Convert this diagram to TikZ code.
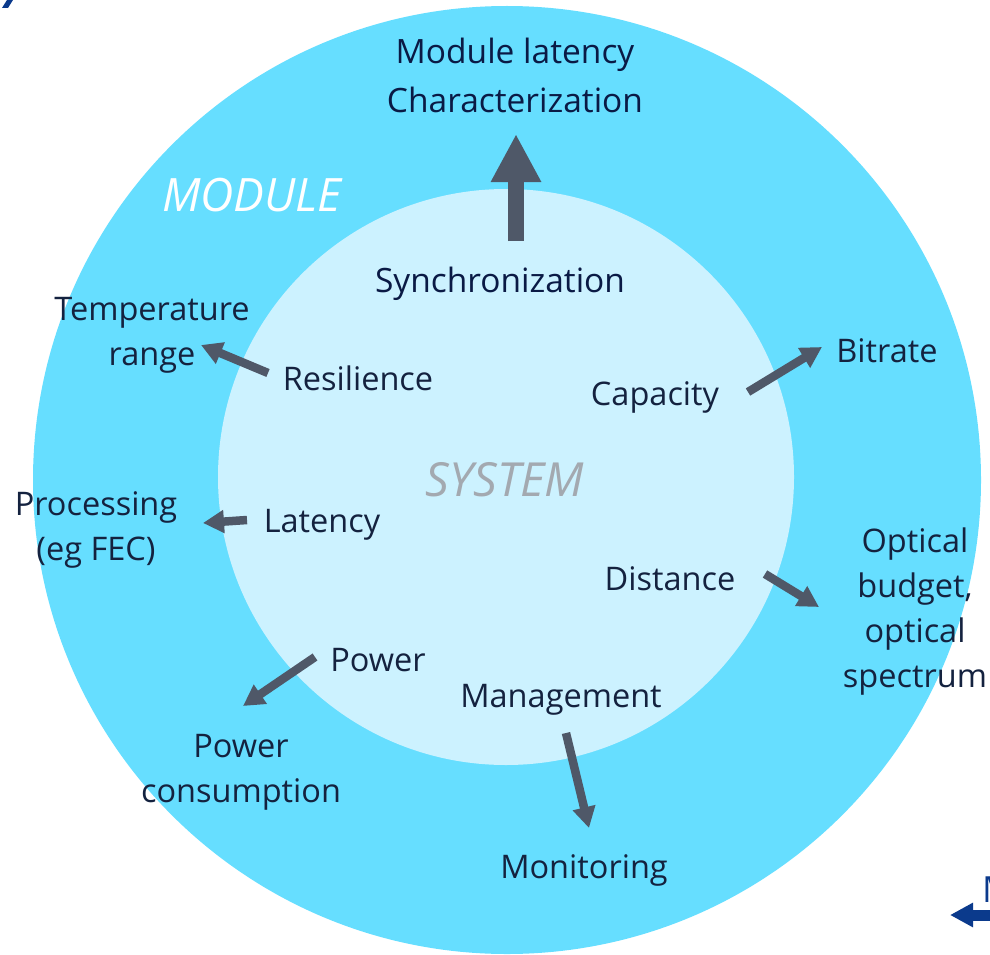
\documentclass[tikz,border=0pt]{standalone}
\usepackage{fontspec}
\setmainfont{Open Sans}
\usetikzlibrary{arrows.meta}
\definecolor{outerc}{HTML}{66DEFF}
\definecolor{innerc}{HTML}{CCF2FF}
\definecolor{arrc}{HTML}{4F5868}
\definecolor{txtc}{HTML}{14223F}
\definecolor{navy}{HTML}{0A1A45}
\definecolor{sysc}{HTML}{A3A9B0}
\definecolor{bluec}{HTML}{0B3A8C}
\tikzset{
  lbl/.style={text=txtc, font=\fontsize{32.5}{45}\selectfont, align=center, inner sep=0pt},
  big/.style={text=navy, font=\fontsize{33.5}{45}\selectfont, align=center, inner sep=0pt},
  arr/.style={draw=arrc, line width=8.5pt, line cap=butt, -{Triangle[width=22pt,length=21pt]}},
  toparr/.style={draw=arrc, line width=16pt, line cap=butt, -{Triangle[width=47pt,length=48pt]}},
}
\begin{document}
\begin{tikzpicture}[x=1pt,y=-1pt]
\useasboundingbox (0,0) rectangle (990,955);
\clip (0,0) rectangle (990,955);
\fill[outerc] (507,480) circle (474);
\fill[innerc] (506,477) circle (288);
% texts
\node[big] (mod1) at (515,55) {Module latency};
\node[big] (mod2) at (515,100) {Characterization};
\node[text=white, font=\fontsize{46}{50}\selectfont\itshape, inner sep=0pt] (module) at (252,195) {MODULE};
\node[big] (sync) at (500,284) {Synchronization};
\node[lbl] (temp) at (152,335) {Temperature\\range};
\node[lbl] (res) at (358,378) {Resilience};
\node[lbl] (cap) at (655,397) {Capacity};
\node[lbl] (bit) at (887,351) {Bitrate};
\node[text=sysc, font=\fontsize{47}{50}\selectfont\itshape, inner sep=0pt] (system) at (505,480) {SYSTEM};
\node[lbl] (proc) at (96,530) {Processing\\(eg FEC)};
\node[lbl] (lat) at (322,525) {Latency};
\node[lbl] (dist) at (670,579) {Distance};
\node[lbl] (opt) at (915,612) {Optical\\budget,\\optical\\spectrum};
\node[lbl] (pow) at (378,660) {Power};
\node[lbl] (powc) at (241,772) {Power\\consumption};
\node[lbl] (man) at (561,700) {Management};
\node[lbl] (mon) at (584,870) {Monitoring};
% arrow endpoints
\coordinate (t0) at (516,241); \coordinate (t1) at (516,134);
\coordinate (r0) at (268,373); \coordinate (r1) at (201,345);
\coordinate (c0) at (748,392); \coordinate (c1) at (822,347);
\coordinate (l0) at (247,520); \coordinate (l1) at (203,523);
\coordinate (d0) at (765,574); \coordinate (d1) at (819,607);
\coordinate (p0) at (315,657); \coordinate (p1) at (243,706);
\coordinate (m0) at (566,733); \coordinate (m1) at (589,828);
\draw[toparr] (t0) -- (t1);
\draw[arr] (r0) -- (r1);
\draw[arr] (c0) -- (c1);
\draw[arr] (l0) -- (l1);
\draw[arr] (d0) -- (d1);
\draw[arr] (p0) -- (p1);
\draw[arr] (m0) -- (m1);
% clipped fragments at the edges
\coordinate (b0) at (995,915); \coordinate (b1) at (950,915);
\draw[bluec, line width=11pt, -{Triangle[width=23pt,length=23pt]}] (b0) -- (b1);
\node[text=bluec, font=\fontsize{36}{40}\selectfont, anchor=south west, inner sep=0pt] (mfrag) at (982,903) {M};
\fill[bluec] (2,8) -- (8,8) -- (13,0) -- (7,0) -- cycle;
\end{tikzpicture}
\end{document}
